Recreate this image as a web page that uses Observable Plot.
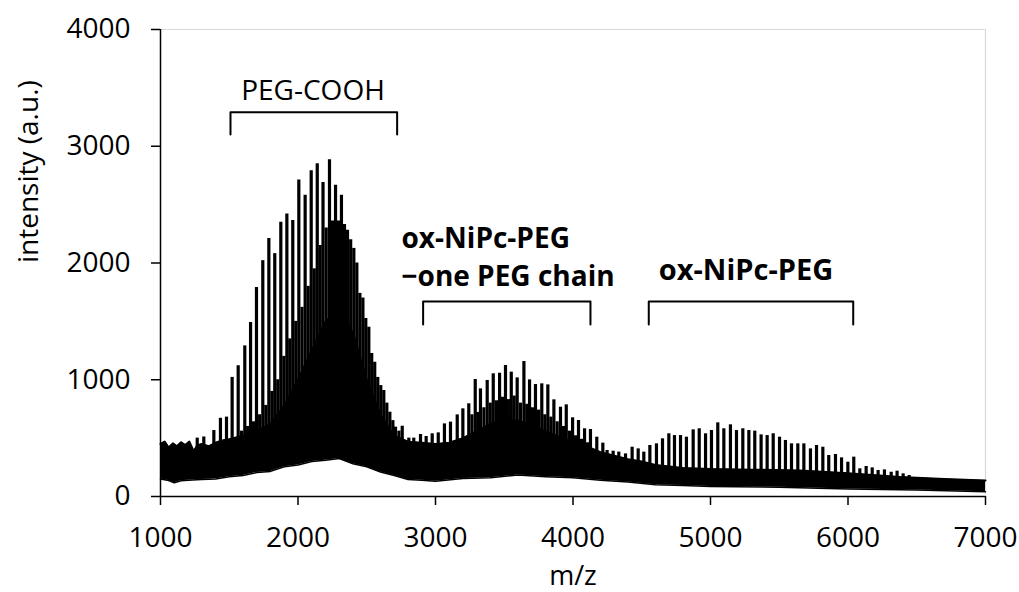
<!DOCTYPE html>
<html>
<head>
<meta charset="utf-8">
<script src="https://cdn.jsdelivr.net/npm/d3@7"></script>
<script src="https://cdn.jsdelivr.net/npm/@observablehq/plot@0.6"></script>
<style>
  html, body { margin: 0; padding: 0; background: #fff; }
</style>
</head>
<body>
<div id="chart"></div>
<script>
// ---- axis ticks ----
const xTicks = [1000, 2000, 3000, 4000, 5000, 6000, 7000];
const yTicks = [0, 1000, 2000, 3000, 4000];

// ---- main resolved peak series (m/z, intensity) ----
const peakMz = [
  1267, 1315, 1388, 1436, 1480, 1521, 1565, 1613, 1655, 1698,
  1744, 1788, 1831, 1875, 1919, 1962, 2006, 2052, 2096, 2140,
  2182, 2229, 2273, 2316, 2360, 2406, 2450, 2493, 2536, 2580,
  2624, 2668, 2709, 2758, 2806, 2842, 2891, 2932, 2976, 3020,
  3065, 3109, 3158, 3199, 3242, 3289, 3327, 3376, 3420, 3466,
  3509, 3551, 3594, 3643, 3684, 3727, 3773, 3817, 3861, 3909,
  3951, 3997, 4040, 4084, 4127, 4173, 4217, 4248, 4292, 4333,
  4382, 4430, 4474, 4515, 4559, 4607, 4651, 4697, 4738, 4782,
  4825, 4874, 4918, 4964, 5007, 5053, 5097, 5145, 5189, 5235,
  5279, 5322, 5368, 5412, 5456, 5502, 5545, 5589, 5635, 5679,
  5727, 5771, 5817, 5860, 5909, 5953, 5999, 6042, 6086, 6132,
  6176, 6219, 6265, 6314, 6357, 6401, 6445
];
const peakIntensity = [
  500, 510, 565, 670, 680, 1020, 1120, 1290, 1490, 1790,
  2020, 2210, 2080, 2350, 2420, 2365, 2710, 2580, 2790, 2850,
  2690, 2885, 2665, 2580, 2280, 2125, 1740, 1525, 1225, 1020,
  908, 722, 594, 602, 500, 500, 531, 514, 537, 545,
  622, 637, 699, 751, 794, 1002, 922, 994, 1051, 1056,
  1122, 1065, 1016, 1156, 999, 959, 965, 956, 828, 765,
  785, 674, 651, 580, 574, 508, 457, 394, 388, 380,
  365, 422, 408, 380, 437, 451, 494, 537, 522, 522,
  508, 571, 580, 537, 565, 631, 580, 614, 565, 580,
  565, 560, 528, 522, 537, 508, 480, 451, 451, 451,
  408, 437, 422, 351, 360, 331, 294, 337, 237, 257,
  245, 223, 228, 208, 217, 194, 180
];

// ---- secondary (interleaved) peak series ----
const secMz = [
  1590, 1634, 1677, 1721, 1766, 1810, 1853, 1897, 1940, 1984,
  2029, 2074, 2118, 2161, 2205, 2251, 2295, 2338, 2383, 2428,
  2472, 2515, 2558, 2602, 2646, 2690, 2734,
  3265, 3308, 3352, 3398, 3443, 3488, 3530, 3572, 3618, 3664,
  3705, 3750, 3795, 3839, 3885, 3930, 3974, 4018, 4062, 4105
];
const secIntensity = [
  560, 600, 640, 700, 780, 900, 1000, 1200, 1350, 1500,
  1620, 1800, 1950, 2150, 2300, 2360, 2360, 2330, 2200, 2000,
  1700, 1450, 1150, 950, 800, 650, 560,
  700, 720, 760, 800, 820, 850, 830, 860, 800, 790,
  760, 740, 700, 680, 640, 600, 560, 520, 490, 460
];

// ---- top of the unresolved (solid) part of the trace ----
const bandMz = [
  1000, 1030, 1060, 1090, 1120, 1150, 1180, 1210, 1240, 1270,
  1300, 1350, 1400, 1450, 1500, 1600, 1700, 1800, 1900, 2000,
  2100, 2200, 2300, 2400, 2500, 2600, 2700, 2800,
  2900, 3000, 3100, 3200, 3300, 3400, 3500, 3600, 3700, 3800,
  3900, 4000, 4100, 4200, 4300, 4400, 4500, 4600, 4800, 5000,
  5300, 5650, 6000, 6380, 6700, 7000
];
const bandTop = [
  450, 470, 420, 455, 430, 465, 440, 470, 390, 440,
  450, 430, 460, 480, 490, 520, 560, 620, 780, 1000,
  1250, 1500, 1600, 1400, 1000, 700, 520, 470,
  460, 450, 460, 500, 560, 620, 650, 650, 610, 560,
  510, 470, 430, 380, 350, 320, 300, 270, 245, 235,
  230, 223, 200, 166, 150, 137
];

// ---- bottom edge of the trace (baseline minima) ----
const floorMz = [
  1000, 1050, 1100, 1150, 1200, 1300, 1400, 1500, 1600, 1700,
  1800, 1900, 2000, 2100, 2200, 2300, 2400, 2500, 2600, 2700,
  2800, 2900, 3000, 3200, 3400, 3600, 3800, 4000, 4200, 4400,
  4600, 4800, 5000, 5500, 6000, 6500, 7000
];
const floorIntensity = [
  150, 140, 118, 135, 140, 145, 150, 170, 180, 205,
  215, 255, 270, 300, 310, 325, 280, 255, 210, 180,
  145, 140, 130, 155, 160, 185, 170, 160, 140, 125,
  100, 95, 85, 80, 65, 55, 40
];

// ---- annotation brackets ----
const bracketName = ["PEG-COOH", "ox-NiPc-PEG −one PEG chain", "ox-NiPc-PEG"];
const bracketStart = [1509, 2910, 4551];
const bracketEnd = [2721, 4127, 6038];
const bracketTop = [3291, 1670, 1670];
const bracketFoot = [3100, 1473, 1473];

// ---- annotation labels ----
const labelText = ["PEG-COOH", "ox-NiPc-PEG", "−one PEG chain", "ox-NiPc-PEG"];
const labelMz = [2109, 2753, 2753, 5258];
const labelY = [3473, 2206, 1880, 1932];
const labelWeight = ["normal", "bold", "bold", "bold"];
const labelAlign = ["middle", "start", "start", "middle"];

// ---- build tables ----
const peaks = peakMz.map((m, i) => ({mz: m, v: peakIntensity[i]}));
const secPeaks = secMz.map((m, i) => ({mz: m, v: secIntensity[i]}));
const band = bandMz.map((m, i) => ({mz: m, v: bandTop[i]}));
const floorLine = floorMz.map((m, i) => ({mz: m, v: floorIntensity[i]}));
const bracketPts = bracketName.flatMap((n, i) => [
  {name: n, mz: bracketStart[i], v: bracketFoot[i]},
  {name: n, mz: bracketStart[i], v: bracketTop[i]},
  {name: n, mz: bracketEnd[i], v: bracketTop[i]},
  {name: n, mz: bracketEnd[i], v: bracketFoot[i]}
]);
const labels = labelText.map((t, i) => ({
  t, mz: labelMz[i], v: labelY[i], w: labelWeight[i], a: labelAlign[i]
}));

const FONT = "'Open Sans', 'Liberation Sans', sans-serif";

const chart = Plot.plot({
  width: 1019,
  height: 592,
  marginLeft: 160,
  marginRight: 34,
  marginTop: 29,
  marginBottom: 96,
  style: {fontFamily: FONT, fontSize: "28px", background: "#fff", color: "#000"},
  x: {domain: [1000, 7000], label: null},
  y: {domain: [0, 4000], label: null},
  marks: [
    // light frame at top and right
    Plot.ruleY([4000], {stroke: "#d9d9d9", strokeWidth: 1.2}),
    Plot.ruleX([7000], {stroke: "#d9d9d9", strokeWidth: 1.2}),
    // resolved peaks
    Plot.ruleX(peaks, {x: "mz", y1: 0, y2: "v", stroke: "#000", strokeWidth: 3.2}),
    Plot.ruleX(secPeaks, {x: "mz", y1: 0, y2: "v", stroke: "#000", strokeWidth: 3.2}),
    // unresolved solid part
    Plot.areaY(band, {x: "mz", y1: 0, y2: "v", fill: "#000"}),
    Plot.lineY(band, {x: "mz", y: "v", stroke: "#000", strokeWidth: 2}),
    // white below the trace minimum
    Plot.areaY(floorLine, {x: "mz", y1: 0, y2: "v", fill: "#fff"}),
    Plot.lineY(floorLine, {x: "mz", y: "v", stroke: "#000", strokeWidth: 1.5}),
    // brackets
    Plot.line(bracketPts, {x: "mz", y: "v", z: "name", stroke: "#000", strokeWidth: 2}),
    // labels
    Plot.text(labels.filter(d => d.w === "normal"), {
      x: "mz", y: "v", text: "t", textAnchor: "middle", fontSize: 28, fill: "#000"
    }),
    Plot.text(labels.filter(d => d.w === "bold" && d.a === "start"), {
      x: "mz", y: "v", text: "t", textAnchor: "start", fontSize: 28, fontWeight: "bold", fill: "#000"
    }),
    Plot.text(labels.filter(d => d.w === "bold" && d.a === "middle"), {
      x: "mz", y: "v", text: "t", textAnchor: "middle", fontSize: 29, fontWeight: "bold", fill: "#000"
    }),
    // axes
    Plot.axisX({ticks: xTicks, tickSize: 9, tickPadding: 22, tickFormat: d => String(d),
                fontSize: 28, label: null, strokeWidth: 1.5}),
    Plot.axisY({ticks: yTicks, tickSize: 9, tickPadding: 21, tickFormat: d => String(d),
                fontSize: 28, label: null, strokeWidth: 1.5}),
    Plot.ruleY([0], {stroke: "#000", strokeWidth: 1.5}),
    Plot.ruleX([1000], {stroke: "#000", strokeWidth: 1.5}),
    // axis titles
    Plot.text(["m/z"], {frameAnchor: "bottom", dy: 88, fontSize: 27, fill: "#000"}),
    Plot.text(["intensity (a.u.)"], {frameAnchor: "left", dx: -131, rotate: -90, fontSize: 28, fill: "#000"})
  ]
});

document.getElementById("chart").appendChild(chart);
</script>
</body>
</html>
